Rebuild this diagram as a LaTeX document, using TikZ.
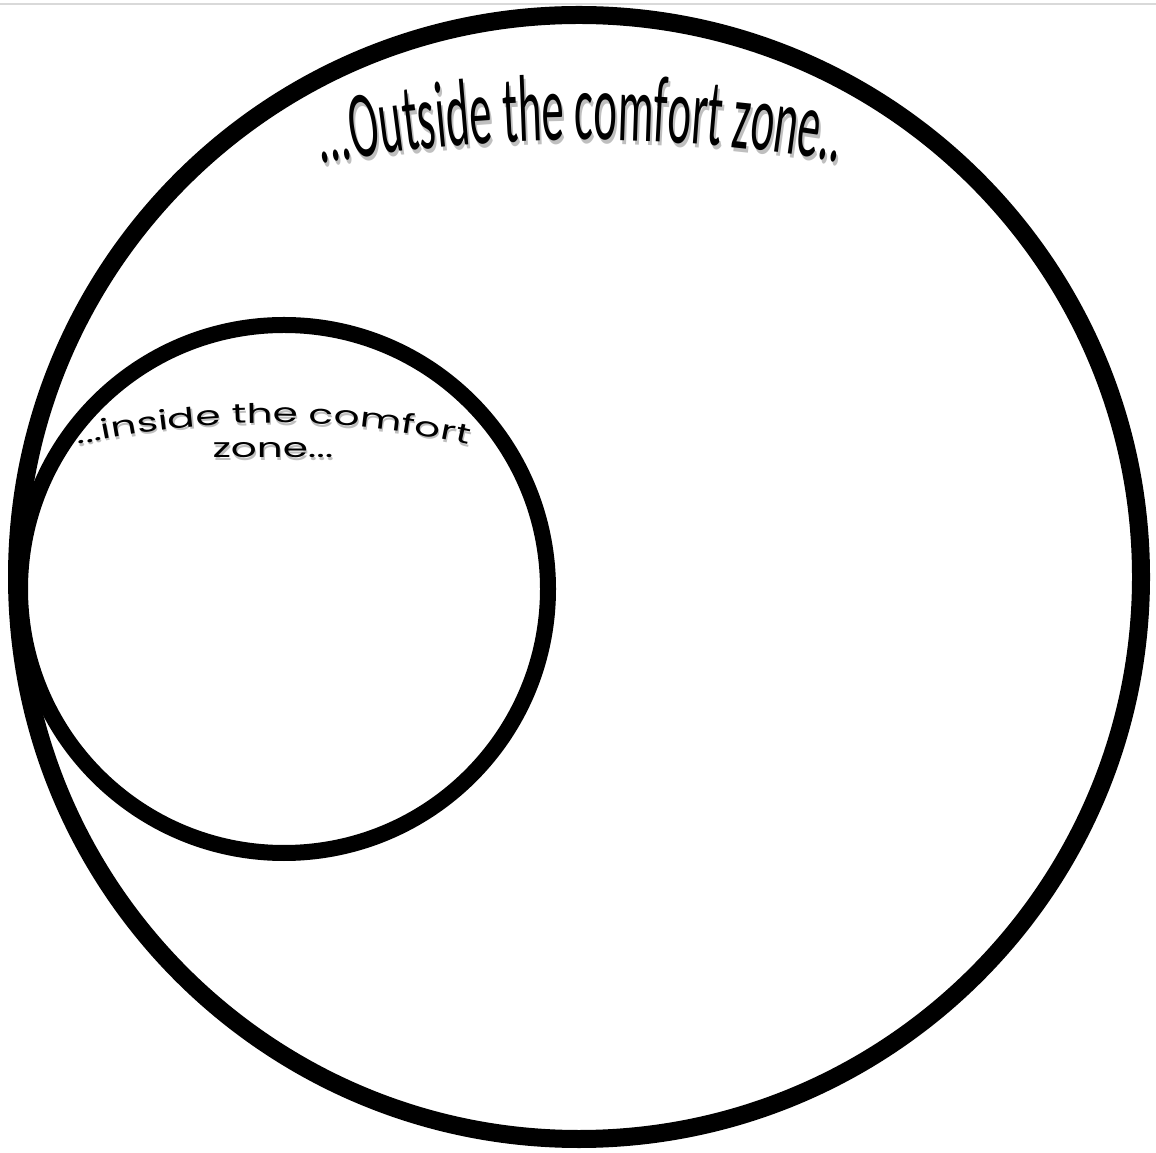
\documentclass[tikz,border=0pt]{standalone}
\usepackage{fontspec}
\usetikzlibrary{decorations.text}
\newfontfamily\outerfont[FakeStretch=0.47]{Carlito}
\newfontfamily\innerfont[FakeStretch=1.5]{Poppins}

\begin{document}
\begin{tikzpicture}[
  x=0.5pt, y=0.5pt,
  zonering/.style={draw=black, line width=9pt},
  innerring/.style={draw=black, line width=8pt},
  innerlabel/.style={font=\innerfont\fontsize{13.5}{15}\selectfont, inner sep=0pt}
]
\useasboundingbox (0,0) rectangle (1156,1152);
\draw[black!15, line width=1pt] (0,1148) -- (1156,1148);

% the two zones
\draw[zonering] (579,575) circle[radius=562];
\draw[innerring] (284,563) circle[radius=264];

% outer label, shadow first
\foreach \dx/\dy/\col in {1pt/-2pt/black!25, 0pt/0pt/black}
  \path[xshift=\dx, yshift=\dy, decorate, decoration={text along path, text align=center,
      text={|\outerfont\fontsize{47.5}{50}\selectfont\color{\col}|...Outside the comfort zone...}}]
    (585,-465) ++(100:1477) arc[start angle=100, end angle=80, radius=1477];

% inner label
\foreach \dx/\dy/\col in {0.6pt/-1.2pt/black!25, 0pt/0pt/black}
  \path[xshift=\dx, yshift=\dy, decorate, decoration={text along path, text align=center,
      text={|\innerfont\fontsize{13.5}{15}\selectfont\color{\col}|...inside the comfort}}]
    (273,-151) ++(110:880) arc[start angle=110, end angle=70, radius=880];
\node[innerlabel, text=black!25, anchor=base] (zoneshadow) at ([shift={(1.2,-2.4)}]273,694) {zone...};
\node[innerlabel, anchor=base] (zonetext) at (273,694) {zone...};
\end{tikzpicture}
\end{document}
